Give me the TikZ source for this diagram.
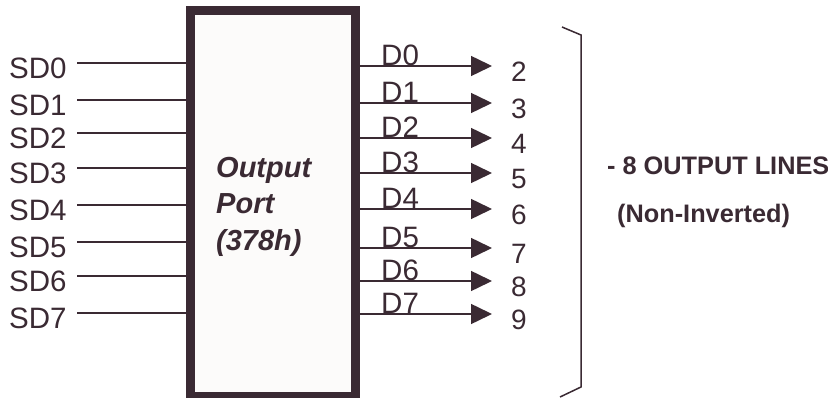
\documentclass[tikz,border=0pt]{standalone}
\usepackage{fontspec}
\setmainfont{Liberation Sans}
\usetikzlibrary{positioning,arrows.meta}
\definecolor{cInk}{HTML}{3A2A33}
\definecolor{cFill}{HTML}{FCFBFA}
\tikzset{
  portbox/.style={draw=cInk, line width=9pt, fill=cFill,
                  minimum width=165pt, minimum height=386pt, inner sep=0pt},
  wire/.style={cInk, line width=1.5pt},
  outwire/.style={wire, -{Triangle[length=21pt,width=20pt]}},
  lbl/.style={text=cInk, inner sep=0pt, font=\fontsize{29.5}{34}\selectfont},
  pin/.style={lbl, font=\fontsize{28}{30}\selectfont},
  note/.style={text=cInk, inner sep=0pt, align=left,
               font=\bfseries\fontsize{25.3}{48}\selectfont}
}

\begin{document}
\begin{tikzpicture}[x=1pt,y=-1pt]
\useasboundingbox (0,0) rectangle (828,398);
% the port itself
\node[portbox] (port) at (273,203.5) {};
\node[lbl, align=left, anchor=north west,
      font=\bfseries\itshape\fontsize{29}{36.5}\selectfont] (name) at (216,157)
  {Output\\Port\\(378h)};
% data bus going in
\foreach \y [count=\i from 0] in {63,100,133,168,205,242,276,313}{
  \coordinate (in\i) at (77,\y);
  \node[lbl, anchor=west] (sd\i) at (9,\y+5) {SD\i};
  \draw[wire] (in\i) -- (in\i -| port.west);
}
% printer pins coming out
\foreach \y [count=\i from 0] in {66,103,138,173,209,248,281,314}{
  \pgfmathtruncatemacro\pinno{\i+2}
  \coordinate (out\i) at (492,\y);
  \draw[outwire] (out\i -| port.east) -- (out\i);
  \node[lbl, anchor=base west] (d\i) at (381,\y) {D\i};
  \node[pin, anchor=west] (p\i) at (511,\y+6) {\pinno};
}
% bracket over the pins
\coordinate (btop) at (581,35);
\coordinate (bbot) at (581,387);
\draw[wire] (562,27) -- (btop) -- (bbot) -- (560,397);
\node[note, anchor=north west] (lines) at (607,156.5)
  {- 8 OUTPUT LINES\\\hspace*{10pt}(Non-Inverted)};
\end{tikzpicture}
\end{document}
